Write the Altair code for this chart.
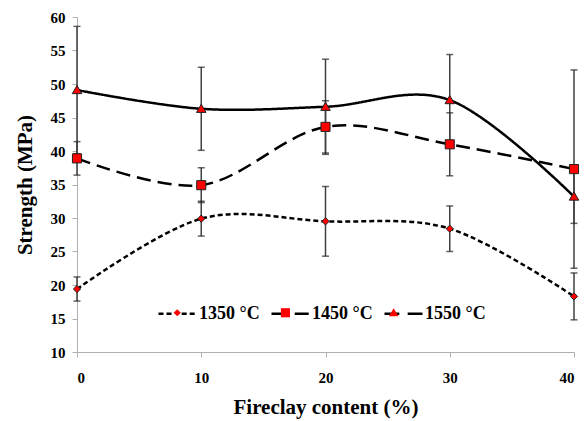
import altair as alt
import pandas as pd

fireclay = [0, 10, 20, 30, 40]
series_names = ["1350 °C", "1450 °C", "1550 °C"]
s1350 = [19.4, 29.9, 29.5, 28.4, 18.3]
e1350 = [1.8, 2.6, 5.2, 3.4, 3.5]
s1450 = [38.9, 34.9, 43.6, 41.0, 37.3]
e1450 = [2.5, 2.6, 3.9, 4.7, 14.8]
s1550 = [49.1, 46.3, 46.6, 47.6, 33.2]
e1550 = [9.5, 6.2, 7.1, 6.8, 4.0]
y_ticks = [10, 15, 20, 25, 30, 35, 40, 45, 50, 55, 60]

rows = []
for name, vals, errs in zip(series_names, [s1350, s1450, s1550], [e1350, e1450, e1550]):
    for x, v, e in zip(fireclay, vals, errs):
        rows.append({"x": x, "series": name, "mseries": name, "value": v,
                     "lo": v - e, "hi": v + e})
df = pd.DataFrame(rows)

FONT = "Liberation Serif"
SYM = 1444
dash_range = [[5, 3], [14, 7], [1, 0]]
shape_range = [
    "M0,-0.19L0.19,0L0,0.19L-0.19,0Z",
    "M-0.24,-0.24H0.24V0.24H-0.24Z",
    "M0,-0.24L0.25,0.19L-0.25,0.19Z",
]

xs = alt.Scale(domain=[0, 40], nice=False)
ys = alt.Scale(domain=[10, 60], nice=False, zero=False)
xaxis = alt.Axis(values=fireclay, titlePadding=11, labelPadding=13, labelOverlap=False)
yaxis = alt.Axis(values=y_ticks, titlePadding=15, labelPadding=7, labelOverlap=False)
XT = "Fireclay content (%)"
YT = "Strength (MPa)"


def X(f):
    return alt.X(f, scale=xs, axis=xaxis, title=XT)


def Y(f):
    return alt.Y(f, scale=ys, axis=yaxis, title=YT)


base = alt.Chart(df)

bars = base.mark_rule(color="#404040", strokeWidth=1.5).encode(
    x=X("x:Q"), y=Y("lo:Q"), y2="hi:Q")

caps = base.transform_fold(["lo", "hi"], as_=["k", "cap"]).mark_tick(
    orient="horizontal", size=7, thickness=1.5, color="#222222").encode(
    x=X("x:Q"), y=Y("cap:Q"))

lines = base.mark_line(interpolate="cardinal", tension=0, color="black", strokeWidth=2.5).encode(
    x=X("x:Q"), y=Y("value:Q"),
    strokeDash=alt.StrokeDash(
        "series:N",
        scale=alt.Scale(domain=series_names, range=dash_range),
        legend=alt.Legend(
            title=None, orient="none", legendX=80, legendY=276, direction="horizontal",
            padding=0, symbolType="M-1,0H-0.22M0.22,0H1", symbolSize=SYM,
            symbolStrokeWidth=2.5, symbolStrokeColor="black", symbolFillColor="transparent",
            labelFont=FONT, labelFontSize=18, labelFontWeight="bold", labelColor="black",
            labelOffset=1, columnPadding=6),
    ),
)

points = base.mark_point(filled=True, fill="red", stroke="#222222", strokeWidth=1,
                         size=SYM, opacity=1).encode(
    x=X("x:Q"), y=Y("value:Q"),
    shape=alt.Shape(
        "mseries:N",
        scale=alt.Scale(range=shape_range),
        legend=alt.Legend(
            title=None, orient="none", legendX=80.75, legendY=276, direction="horizontal",
            padding=0, symbolSize=SYM, symbolStrokeWidth=1, symbolStrokeColor="#222222",
            symbolFillColor="red", symbolOpacity=1,
            labelExpr="''", labelFont=FONT, labelFontSize=18,
            labelOffset=0, columnPadding=69.2),
    ),
)

chart = alt.layer(bars, caps, lines, points).properties(
    width=497, height=335,
    autosize=alt.AutoSizeParams(type="none"),
    padding={"left": 69, "top": 9, "right": 6, "bottom": 69},
).configure_view(stroke=None).configure_axis(
    grid=False, domainColor="#b0b0b0", tickColor="#b0b0b0", tickSize=5,
    labelFont=FONT, labelFontSize=15, labelFontWeight="bold", labelColor="black",
    titleFont=FONT, titleFontSize=21, titleFontWeight="bold", titleColor="black",
)

chart.save("out.html", embed_options={"renderer": "svg", "actions": False})
